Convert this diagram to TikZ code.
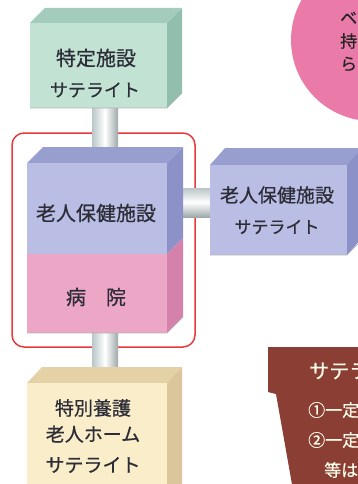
\documentclass[tikz,border=0pt]{standalone}
\usepackage{fontspec}
\newfontfamily\jpfont[FakeBold=0.7]{Noto Sans CJK JP}
\definecolor{greenF}{RGB}{194,226,212}
\definecolor{greenT}{RGB}{164,204,188}
\definecolor{greenS}{RGB}{146,190,174}
\definecolor{blueF}{RGB}{186,190,228}
\definecolor{blueT}{RGB}{152,158,206}
\definecolor{blueS}{RGB}{140,146,200}
\definecolor{pinkF}{RGB}{236,166,198}
\definecolor{pinkS}{RGB}{212,130,172}
\definecolor{creamF}{RGB}{250,237,202}
\definecolor{creamT}{RGB}{228,210,166}
\definecolor{creamS}{RGB}{218,198,154}
\definecolor{bubble}{RGB}{234,122,168}
\definecolor{panel}{RGB}{138,62,52}
\definecolor{frame}{RGB}{232,56,60}
\definecolor{pipeedge}{RGB}{186,198,200}
\definecolor{ink}{RGB}{45,45,55}
\begin{document}
\begin{tikzpicture}[x=1pt,y=-1pt,
  lbl/.style={font=\jpfont\fontsize{#1}{#1}\selectfont, text=ink, inner sep=0pt},
  lbl/.default=19,
  wlbl/.style={font=\jpfont\fontsize{#1}{#1}\selectfont, text=white!92!yellow, inner sep=0pt, anchor=west},
  blbl/.style={font=\jpfont\fontsize{17}{17}\selectfont, text=black!85, inner sep=0pt, anchor=west},
  pipev/.style={left color=pipeedge, right color=pipeedge!85!black, middle color=white},
  pipeh/.style={top color=pipeedge, bottom color=pipeedge!85!black, middle color=white},
  edge/.style={draw=black!30, line width=0.6pt},
  redframe/.style={draw=frame, line width=1.5pt, rounded corners=12pt}]
\useasboundingbox (0,0) rectangle (358,484);
\clip (0,0) rectangle (358,484);

% speech bubble and note panel on the right
\fill[bubble] (372,40) circle (81);
\node[blbl] (b1) at (340,18) {ベ};
\node[blbl] (b2) at (340,41) {持};
\node[blbl] (b3) at (340,64) {ら};

\fill[panel] (268,347) -- (362,347) -- (362,490) -- (293,490) -- (276,394) -- (268,392) -- cycle;
\node[wlbl=20] (n1) at (309,371) {サテラ};
\node[wlbl=17] (n2) at (308,410) {①一定};
\node[wlbl=17] (n3) at (308,440) {②一定};
\node[wlbl=17] (n4) at (324,470) {等は};

% frame around the combined facility
\draw[redframe] (12,133) rectangle (195,347);

% connecting pipes
\coordinate (p1a) at (92,100);
\coordinate (p1b) at (118,160);
\coordinate (p2a) at (92,325);
\coordinate (p2b) at (118,375);
\coordinate (p3a) at (175,188);
\coordinate (p3b) at (215,217);
\fill[pipev] (p1a) rectangle (p1b);
\fill[pipev] (p2a) rectangle (p2b);
\fill[pipeh] (p3a) rectangle (p3b);

% top block
\fill[greenT] (30,23) -- (45,8) -- (182,8) -- (167,23) -- cycle;
\fill[greenS] (167,23) -- (182,8) -- (182,93) -- (167,108) -- cycle;
\fill[greenF] (30,23) rectangle (167,108);
\draw[edge] (30,108) -- (167,108) -- (182,93);
\node[lbl=20] (a1) at (96,58) {特定施設};
\node[lbl=18] (a2) at (95,90) {サテライト};

% central block: upper part and lower part
\fill[blueT] (27,163) -- (43,147) -- (183,147) -- (167,163) -- cycle;
\fill[blueS] (167,163) -- (183,147) -- (183,238) -- (167,254) -- cycle;
\fill[pinkS] (167,254) -- (183,238) -- (183,317) -- (167,333) -- cycle;
\fill[blueF] (27,163) rectangle (167,254);
\fill[pinkF] (27,254) rectangle (167,333);
\draw[edge] (27,333) -- (167,333) -- (183,317);
\node[lbl=20] (m1) at (96,213) {老人保健施設};
\node[lbl=20] (m2) at (96,297) {病　院};

% right block
\fill[blueT] (210,165) -- (225,148) -- (364,148) -- (347,165) -- cycle;
\fill[blueS] (347,165) -- (362,148) -- (362,238) -- (347,255) -- cycle;
\fill[blueF] (210,165) rectangle (347,255);
\draw[edge] (210,255) -- (347,255) -- (362,240);
\node[lbl=19] (r1) at (277,195) {老人保健施設};
\node[lbl=17] (r2) at (277,227) {サテライト};

% bottom block
\fill[creamT] (27,383) -- (42,367) -- (182,367) -- (167,383) -- cycle;
\fill[creamS] (167,383) -- (182,367) -- (182,490) -- (167,490) -- cycle;
\fill[creamF] (27,383) rectangle (167,490);
\node[lbl=19] (s1) at (93,408) {特別養護};
\node[lbl=19] (s2) at (93,434) {老人ホーム};
\node[lbl=19] (s3) at (93,465) {サテライト};
\end{tikzpicture}
\end{document}
